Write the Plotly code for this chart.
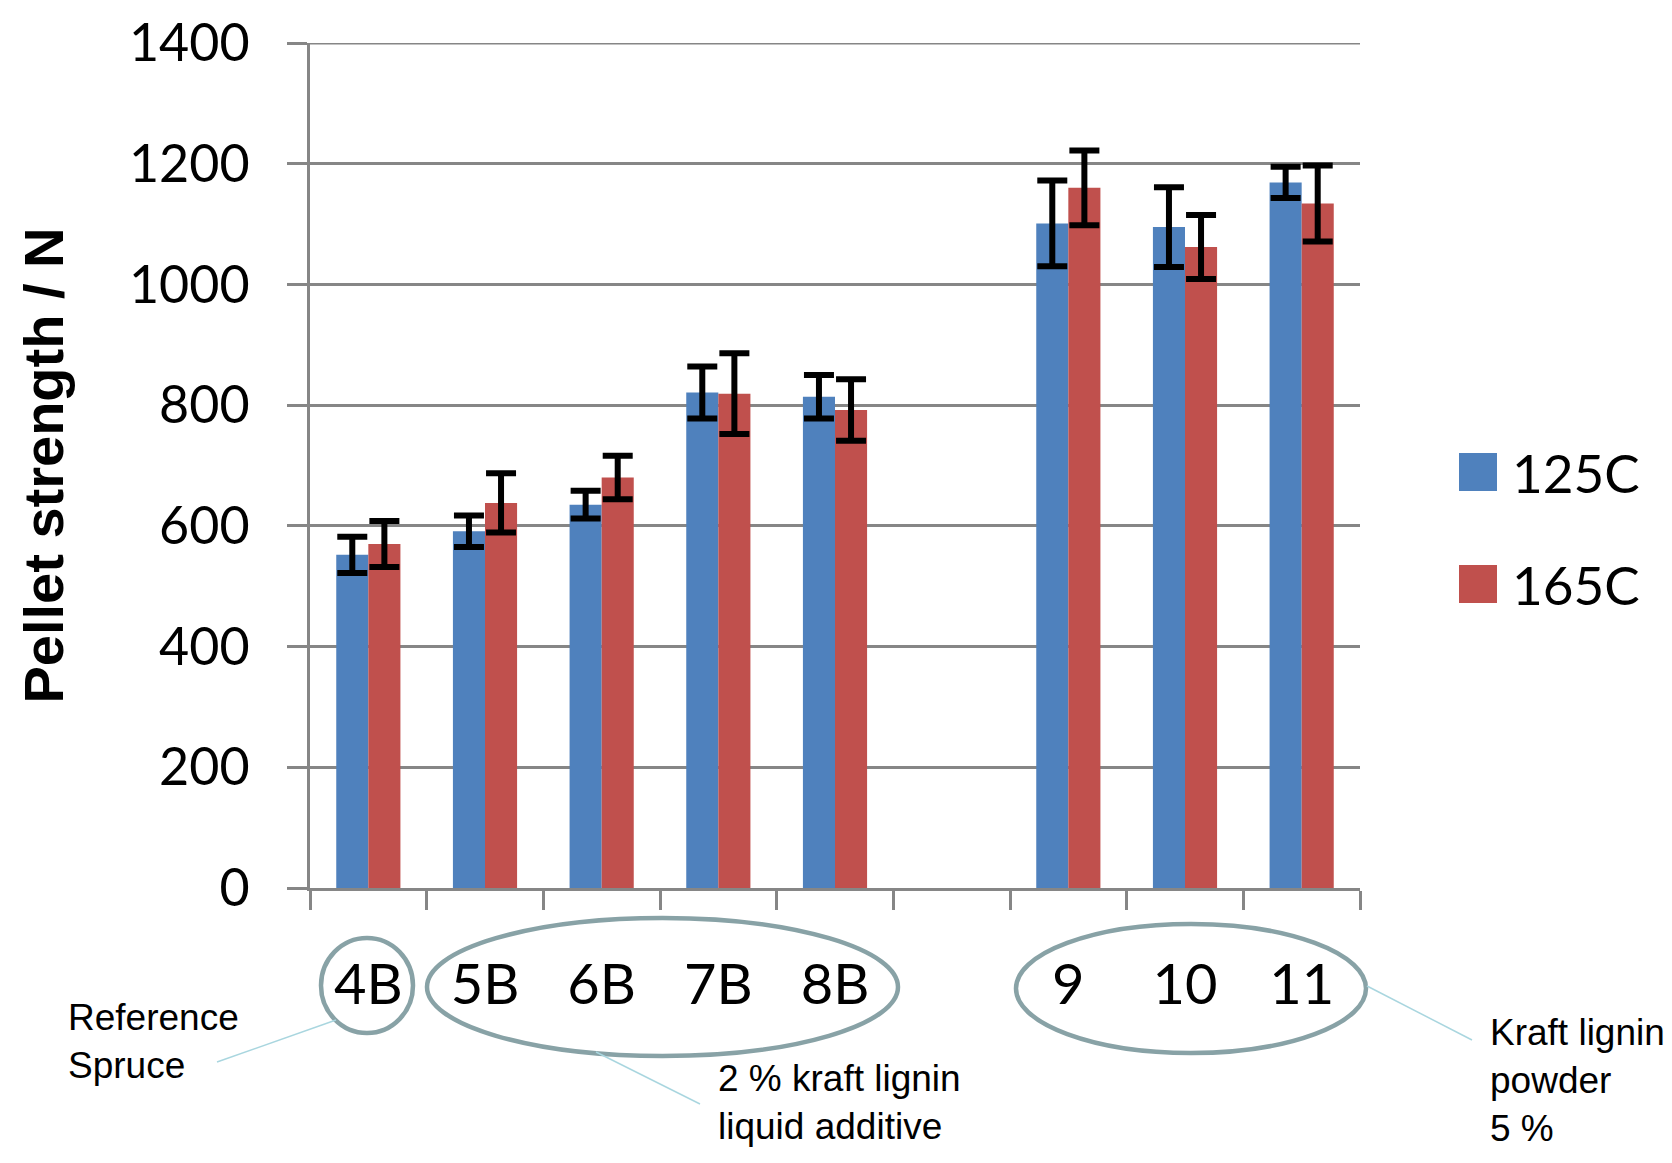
import plotly.graph_objects as go

# ---- data ----
categories = ["4B", "5B", "6B", "7B", "8B", " ", "9", "10", "11"]
series_names = ["125C", "165C"]
strength_125 = [552, 591, 635, 821, 814, None, 1101, 1095, 1169]
error_125 = [30, 26, 23, 43, 36, None, 71, 66, 26]
strength_165 = [570, 638, 680, 819, 792, None, 1160, 1062, 1134]
error_165 = [38, 49, 36, 67, 51, None, 62, 53, 63]
y_ticks = [0, 200, 400, 600, 800, 1000, 1200, 1400]
group_notes = ["Reference<br>Spruce", "2 % kraft lignin<br>liquid additive", "Kraft lignin<br>powder<br>5 %"]

# ---- style (page coordinates; the html body adds an 8 px margin) ----
OFF = 8
W, H = 1672 - 2 * OFF, 1163 - 2 * OFF
L, R, T, B = 310, 1360, 43, 888          # plot area in page pixels
colors = ["#4F81BD", "#C0504D"]
grid = "#868686"
ell_col = "#88A2A6"
lead_col = "#A9D6DF"


def px(x):
    return (x - L) / (R - L)


def py(y):
    return (B - y) / (B - T)


fig = go.Figure()
for name, vals, errs, col in [
    (series_names[0], strength_125, error_125, colors[0]),
    (series_names[1], strength_165, error_165, colors[1]),
]:
    fig.add_trace(go.Bar(
        x=categories, y=vals, name=name, marker=dict(color=col, line=dict(width=0)),
        error_y=dict(type="data", array=errs, color="black", thickness=6, width=15),
        showlegend=False,
    ))

shapes = []
# top gridline (at the range end)
shapes.append(dict(type="line", xref="paper", yref="y", x0=0, x1=1, y0=y_ticks[-1], y1=y_ticks[-1],
                   line=dict(color=grid, width=3), layer="below"))
# ellipses around category groups
for x0, x1, y0, y1 in [(321, 413, 938, 1033), (427, 898, 918, 1056), (1016, 1366, 924, 1053)]:
    shapes.append(dict(type="circle", xref="paper", yref="paper",
                       x0=px(x0), x1=px(x1), y0=py(y1), y1=py(y0),
                       line=dict(color=ell_col, width=4.5), layer="above"))
# leader lines
for xa, ya, xb, yb in [(217, 1062, 336, 1020), (596, 1052, 700, 1104), (1367, 986, 1472, 1040)]:
    shapes.append(dict(type="line", xref="paper", yref="paper",
                       x0=px(xa), y0=py(ya), x1=px(xb), y1=py(yb),
                       line=dict(color=lead_col, width=1.5)))
# custom legend swatches
legend_y = [472, 584]
for i, col in enumerate(colors):
    yc = legend_y[i]
    shapes.append(dict(type="rect", xref="paper", yref="paper",
                       x0=px(1459), x1=px(1497), y0=py(yc + 19), y1=py(yc - 19),
                       fillcolor=col, line=dict(width=0)))

annotations = []
for i, name in enumerate(series_names):
    annotations.append(dict(xref="paper", yref="paper", x=px(1510), y=py(legend_y[i]),
                            xanchor="left", yanchor="middle", showarrow=False, text=name,
                            font=dict(family="Lato", size=53, color="black")))
for text, xl, yt in zip(group_notes, [66, 716, 1488], [995, 1056, 1010]):
    annotations.append(dict(xref="paper", yref="paper", x=px(xl), y=py(yt),
                            xanchor="left", yanchor="top", align="left", showarrow=False,
                            text=text, font=dict(family="Liberation Sans, Arial", size=37, color="black")))

fig.update_layout(
    width=W, height=H,
    margin=dict(l=L - OFF, r=W - (R - OFF), t=T - OFF, b=H - (B - OFF), pad=0, autoexpand=False),
    paper_bgcolor="white", plot_bgcolor="white",
    barmode="group", bargap=0.45, bargroupgap=0.0,
    shapes=shapes, annotations=annotations,
    showlegend=False,
    xaxis=dict(
        type="category", categoryorder="array", categoryarray=categories,
        tickson="boundaries", ticks="outside", ticklen=19, tickwidth=3, tickcolor=grid,
        showline=True, linecolor=grid, linewidth=3, showgrid=False, automargin=False,
        tickfont=dict(family="Lato", size=56, color="black"), ticklabelstandoff=46,
    ),
    yaxis=dict(
        range=[0, 1400], tickvals=y_ticks, ticktext=[str(v) for v in y_ticks],
        showgrid=True, gridcolor=grid, gridwidth=3, zeroline=False, automargin=False,
        showline=True, linecolor=grid, linewidth=3, ticklabeloverflow="allow",
        ticks="outside", ticklen=20, tickwidth=3, tickcolor=grid,
        tickfont=dict(family="Lato", size=52, color="black"), ticklabelstandoff=27,
        title=dict(text="Pellet strength / N", standoff=48,
                   font=dict(family="Liberation Sans, Arial", size=56, color="black", weight="bold")),
    ),
)

fig.write_html("out.html")
